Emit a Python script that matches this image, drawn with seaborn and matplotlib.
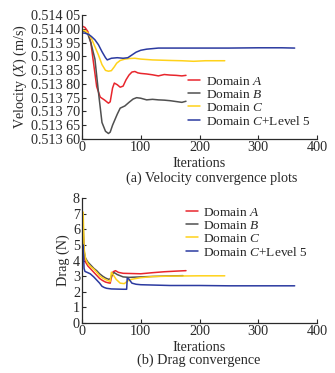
import numpy as np
import pandas as pd
import matplotlib
matplotlib.use("Agg")
import matplotlib.pyplot as plt
import seaborn as sns

# ---------------- data ----------------
labels = ["Domain $A$", "Domain $B$", "Domain $C$", "Domain $C$+Level 5"]
colors = ["#e8262d", "#505050", "#ffd21a", "#2b3aa0"]

# (a) velocity
vel_A_x = [0, 5, 10, 15, 20, 25, 31, 38, 45, 48, 52, 55, 60, 65, 70, 75, 80, 85, 90, 95, 100, 110, 120, 130, 140, 150, 160, 170, 177]
vel_A_y = [0.514010, 0.514005, 0.513990, 0.513950, 0.513870, 0.513790, 0.513752, 0.513742, 0.513730, 0.513735, 0.513785, 0.513803, 0.513797, 0.513788, 0.513792, 0.513815, 0.513832, 0.513843, 0.513845, 0.513840, 0.513838, 0.513836, 0.513833, 0.513829, 0.513834, 0.513832, 0.513831, 0.513829, 0.513831]

vel_B_x = [0, 5, 10, 15, 22, 28, 34, 40, 45, 48, 52, 56, 60, 65, 73, 80, 87, 93, 100, 110, 120, 130, 140, 150, 160, 170, 177]
vel_B_y = [0.513993, 0.513990, 0.513980, 0.513950, 0.513890, 0.513770, 0.513660, 0.513628, 0.513620, 0.513625, 0.513650, 0.513670, 0.513690, 0.513712, 0.513720, 0.513733, 0.513745, 0.513750, 0.513748, 0.513742, 0.513744, 0.513742, 0.513741, 0.513739, 0.513736, 0.513733, 0.513737]

vel_C_x = [0, 5, 10, 16, 22, 28, 34, 40, 45, 50, 55, 59, 65, 73, 80, 90, 100, 120, 150, 170, 190, 210, 230, 243]
vel_C_y = [0.513996, 0.513993, 0.513985, 0.513965, 0.513935, 0.513905, 0.513870, 0.513849, 0.513846, 0.513848, 0.513862, 0.513875, 0.513885, 0.513890, 0.513892, 0.513893, 0.513890, 0.513887, 0.513885, 0.513884, 0.513882, 0.513884, 0.513884, 0.513884]

vel_D_x = [0, 5, 11, 16, 22, 28, 34, 40, 43, 50, 60, 70, 78, 85, 92, 100, 110, 120, 130, 150, 200, 250, 300, 340, 362]
vel_D_y = [0.513985, 0.513984, 0.513980, 0.513972, 0.513960, 0.513942, 0.513917, 0.513895, 0.513887, 0.513893, 0.513895, 0.513893, 0.513895, 0.513905, 0.513915, 0.513922, 0.513926, 0.513928, 0.513930, 0.513930, 0.513930, 0.513930, 0.513931, 0.513931, 0.513930]

# (b) drag
drag_A_x = [2, 3.5, 6, 10, 15, 20, 25, 30, 35, 40, 45, 48, 50, 53, 57, 62, 70, 80, 100, 120, 140, 160, 177]
drag_A_y = [5.8, 4.3, 3.9, 3.65, 3.45, 3.25, 3.05, 2.85, 2.72, 2.62, 2.57, 2.55, 2.9, 3.28, 3.35, 3.24, 3.18, 3.17, 3.15, 3.22, 3.28, 3.32, 3.35]

drag_B_x = [2, 3.5, 6, 10, 15, 20, 25, 30, 35, 40, 45, 48, 52, 55, 60, 70, 80, 100, 120, 140, 160, 172]
drag_B_y = [6.3, 4.6, 4.15, 3.9, 3.7, 3.5, 3.35, 3.15, 3.0, 2.88, 2.8, 2.82, 3.15, 3.22, 3.1, 2.95, 2.92, 2.95, 2.98, 3.0, 3.02, 3.03]

drag_C_x = [2, 3.5, 6, 10, 15, 20, 25, 30, 35, 40, 45, 48, 50, 53, 58, 65, 72, 78, 85, 100, 120, 150, 200, 243]
drag_C_y = [7.1, 4.8, 4.1, 3.8, 3.6, 3.45, 3.25, 3.02, 2.88, 2.78, 2.7, 2.65, 3.25, 3.1, 2.8, 2.55, 2.52, 2.7, 2.8, 2.9, 2.97, 3.0, 3.02, 3.02]

drag_D_x = [2, 3.5, 5, 10, 14, 20, 25, 30, 34, 38, 42, 50, 60, 70, 76, 77, 80, 85, 92, 100, 150, 200, 250, 300, 362]
drag_D_y = [5.0, 3.5, 3.3, 3.22, 3.15, 2.95, 2.75, 2.55, 2.35, 2.27, 2.22, 2.18, 2.17, 2.16, 2.16, 2.88, 2.8, 2.55, 2.48, 2.45, 2.4, 2.4, 2.38, 2.38, 2.38]

vel_yticks = [0.51360, 0.51365, 0.51370, 0.51375, 0.51380, 0.51385, 0.51390, 0.51395, 0.51400, 0.51405]
vel_yticklabels = ["0.513 60", "0.513 65", "0.513 70", "0.513 75", "0.513 80",
                   "0.513 85", "0.513 90", "0.513 95", "0.514 00", "0.514 05"]
drag_yticks = [0, 1, 2, 3, 4, 5, 6, 7, 8]
xticks = [0, 100, 200, 300, 400]

# ---------------- style ----------------
sns.set_theme(style="ticks")
plt.rcParams["font.family"] = ["Liberation Serif", "DejaVu Serif"]
plt.rcParams["mathtext.fontset"] = "custom"
plt.rcParams["mathtext.rm"] = "Liberation Serif"
plt.rcParams["mathtext.it"] = "Liberation Serif:italic"
plt.rcParams["xtick.direction"] = "in"
plt.rcParams["ytick.direction"] = "in"

FS = 10.2
LFS = 9.6
TXT = "#2a2a2a"

fig = plt.figure(figsize=(3.35, 3.73), dpi=100)
ax1 = fig.add_axes([82 / 335, 1 - 139 / 373, 235 / 335, 124 / 373])
ax2 = fig.add_axes([82 / 335, 1 - 323 / 373, 235 / 335, 125 / 373])

vel_series = [(vel_A_x, vel_A_y), (vel_B_x, vel_B_y), (vel_C_x, vel_C_y), (vel_D_x, vel_D_y)]
drag_series = [(drag_A_x, drag_A_y), (drag_B_x, drag_B_y), (drag_C_x, drag_C_y), (drag_D_x, drag_D_y)]

for ax, series in ((ax1, vel_series), (ax2, drag_series)):
    for (xs, ys), lab, col in zip(series, labels, colors):
        df = pd.DataFrame({"x": xs, "y": ys})
        sns.lineplot(data=df, x="x", y="y", ax=ax, color=col, label=lab,
                     linewidth=1.1, sort=False, estimator=None)

for ax in (ax1, ax2):
    ax.set_xlim(0, 400)
    ax.set_xticks(xticks)
    ax.tick_params(labelsize=FS, length=3, width=0.8, pad=1.5, colors=TXT,
                   labelcolor=TXT)
    for side in ("top", "right"):
        ax.spines[side].set_visible(False)
    for side in ("left", "bottom"):
        ax.spines[side].set_linewidth(0.9)
        ax.spines[side].set_color(TXT)
    ax.set_xlabel("Iterations", fontsize=FS, labelpad=2, color=TXT)

ax1.set_ylim(0.51360, 0.51405)
ax1.set_yticks(vel_yticks)
ax1.set_yticklabels(vel_yticklabels)
ax1.set_ylabel("Velocity ($X$) (m/s)", fontsize=FS, labelpad=1, color=TXT)

ax2.set_ylim(0, 8)
ax2.set_yticks(drag_yticks)
ax2.set_ylabel("Drag (N)", fontsize=FS, labelpad=2, color=TXT)

leg_kw = dict(frameon=False, fontsize=LFS, handlelength=0.9, handletextpad=0.4,
              labelspacing=0.05, borderpad=0, borderaxespad=0)
ax1.legend(loc="center left", bbox_to_anchor=(0.452, 0.30), **leg_kw)
ax2.legend(loc="center left", bbox_to_anchor=(0.442, 0.724), **leg_kw)

fig.text(211.7 / 335, 1 - 178 / 373, "(a) Velocity convergence plots",
         ha="center", va="center", fontsize=FS, color=TXT)
fig.text(199 / 335, 1 - 360 / 373, "(b) Drag convergence",
         ha="center", va="center", fontsize=FS, color=TXT)

fig.savefig("out.png", dpi=100, facecolor="white")
